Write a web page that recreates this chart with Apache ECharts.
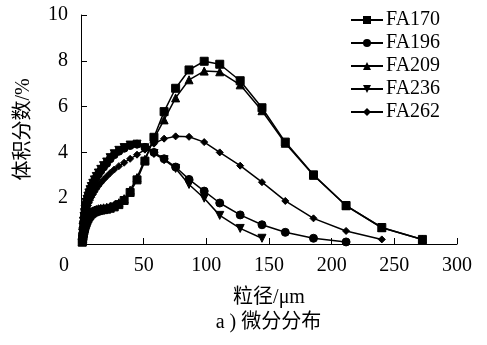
<!DOCTYPE html>
<html><head><meta charset="utf-8">
<script src="https://cdn.jsdelivr.net/npm/echarts@6/dist/echarts.min.js"></script>
<style>html,body{margin:0;padding:0;background:#fff}#c{width:487px;height:345px}</style>
</head><body><div id="c"></div>
<script>
const sizes = [1.0, 1.3, 1.6, 2.0, 2.4, 2.8, 3.2, 3.7, 4.2, 4.8, 5.5, 6.3, 7.2, 8.2, 9.4, 10.7, 12.2, 13.9, 15.8, 18.0, 20.5, 23.3, 26.5, 30.2, 34.4, 39.2, 44.7, 51.0, 58.2, 66.3, 75.5, 86.2, 98.3, 110.7, 127, 144.4, 163, 185.5, 211.5, 240, 272.4];
const FA170 = [0.08, 0.2, 0.33, 0.46, 0.58, 0.68, 0.77, 0.86, 0.94, 1.02, 1.1, 1.18, 1.25, 1.31, 1.36, 1.4, 1.43, 1.46, 1.48, 1.5, 1.52, 1.56, 1.62, 1.72, 1.9, 2.25, 2.8, 3.62, 4.66, 5.78, 6.8, 7.6, 7.98, 7.85, 7.13, 5.95, 4.45, 3.02, 1.68, 0.72, 0.2];
const FA196 = [0.2, 0.45, 0.7, 0.95, 1.15, 1.32, 1.47, 1.62, 1.76, 1.9, 2.04, 2.18, 2.32, 2.46, 2.6, 2.75, 2.9, 3.05, 3.2, 3.36, 3.52, 3.72, 3.9, 4.05, 4.18, 4.3, 4.36, 4.22, 4.0, 3.72, 3.36, 2.82, 2.31, 1.79, 1.27, 0.84, 0.51, 0.25, 0.09];
const FA209 = [0.1, 0.25, 0.39, 0.53, 0.65, 0.76, 0.85, 0.94, 1.02, 1.1, 1.18, 1.26, 1.33, 1.39, 1.44, 1.48, 1.51, 1.54, 1.56, 1.58, 1.6, 1.64, 1.7, 1.8, 1.98, 2.35, 2.9, 3.7, 4.6, 5.42, 6.38, 7.17, 7.55, 7.52, 6.95, 5.82, 4.4, 3.0, 1.67, 0.71, 0.2];
const FA236 = [0.22, 0.48, 0.74, 0.99, 1.2, 1.37, 1.52, 1.67, 1.81, 1.95, 2.09, 2.23, 2.37, 2.51, 2.65, 2.8, 2.95, 3.1, 3.26, 3.42, 3.58, 3.77, 3.94, 4.09, 4.21, 4.32, 4.36, 4.2, 3.95, 3.68, 3.3, 2.6, 2.0, 1.25, 0.68, 0.25];
const FA262 = [0.15, 0.35, 0.55, 0.75, 0.92, 1.07, 1.2, 1.33, 1.45, 1.57, 1.68, 1.8, 1.92, 2.04, 2.16, 2.28, 2.41, 2.54, 2.67, 2.81, 2.95, 3.1, 3.25, 3.4, 3.55, 3.72, 3.9, 4.12, 4.38, 4.6, 4.7, 4.68, 4.45, 4.0, 3.42, 2.7, 1.88, 1.12, 0.57, 0.2];
const seriesNames = ['FA170', 'FA196', 'FA209', 'FA236', 'FA262'];
const xTicks = [0, 50, 100, 150, 200, 250, 300];
const yTicks = [0, 2, 4, 6, 8, 10];

const FONT = '"Liberation Serif", "Times New Roman", "Noto Sans CJK SC", serif';
const seriesData = [FA170, FA196, FA209, FA236, FA262];
const symbols = ['rect', 'circle', 'triangle', 'triangle', 'diamond'];
const symRot = [0, 0, 0, 180, 0];
const symSize = [8, 8, 8, 8, 7];

const chart = echarts.init(document.getElementById('c'), null, {renderer: 'canvas'});
chart.setOption({
  animation: false,
  backgroundColor: '#fff',
  textStyle: {fontFamily: FONT, color: '#000'},
  grid: {left: 81, right: 30, top: 15, bottom: 101, containLabel: false},
  legend: {
    orient: 'vertical', left: 345, top: 5,
    itemWidth: 32, itemHeight: 10, itemGap: 3,
    data: seriesNames,
    textStyle: {fontFamily: FONT, fontSize: 20, color: '#000', lineHeight: 19, padding: [0,0,0,-2]}
  },
  xAxis: {
    type: 'value', min: xTicks[0], max: xTicks[xTicks.length - 1], interval: 50,
    name: '粒径/μm', nameLocation: 'middle', nameGap: 44,
    nameTextStyle: {fontFamily: FONT, fontSize: 20, color: '#000'},
    axisLine: {lineStyle: {color: '#000', width: 1}},
    axisTick: {inside: true, length: 6, lineStyle: {color: '#000'}},
    splitLine: {show: false},
    axisLabel: {
      margin: 12, fontFamily: FONT, fontSize: 20, color: '#000',
      formatter: function (v) { return v === 0 ? '{z|0}' : String(v); },
      rich: {z: {fontFamily: FONT, fontSize: 20, color: '#000', padding: [0, 34, 0, 0]}}
    }
  },
  yAxis: {
    type: 'value', min: yTicks[0], max: yTicks[yTicks.length - 1], interval: 2,
    name: '体积分数/%', nameLocation: 'middle', nameGap: 47, nameRotate: 90,
    nameTextStyle: {fontFamily: FONT, fontSize: 20, color: '#000', padding: [0, 0, 0, 0]},
    axisLine: {show: true, lineStyle: {color: '#000', width: 1}},
    axisTick: {show: true, inside: true, length: 6, lineStyle: {color: '#000'}},
    splitLine: {show: false},
    axisLabel: {
      margin: 13, fontFamily: FONT, fontSize: 20, color: '#000',
      formatter: function (v) { return v === 0 ? '' : String(v); }
    }
  },
  graphic: [{
    type: 'text', x: 268.5, y: 323,
    style: {text: 'a ) 微分分布', font: '20px ' + FONT, fill: '#000', textAlign: 'center', textVerticalAlign: 'middle'}
  }],
  series: seriesNames.map(function (n, i) {
    return {
      name: n, type: 'line',
      data: seriesData[i].map(function (y, k) { return [sizes[k], y]; }),
      symbol: symbols[i], symbolRotate: symRot[i], symbolSize: symSize[i],
      showAllSymbol: true,
      lineStyle: {color: '#000', width: 1.5},
      itemStyle: {color: '#000', borderColor: '#000'},
      emphasis: {disabled: true}
    };
  })
});
</script></body></html>
